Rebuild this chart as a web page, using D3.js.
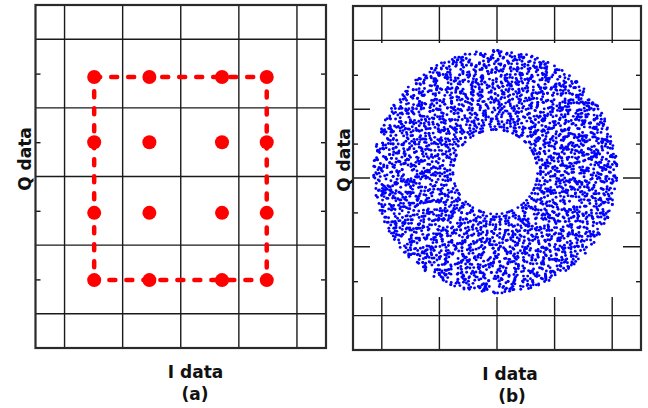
<!DOCTYPE html>
<html lang="en">
<head>
<meta charset="UTF-8">
<title>I/Q constellation</title>
<script src="https://cdnjs.cloudflare.com/ajax/libs/d3/7.8.5/d3.min.js"></script>
<style>
  body { margin: 0; background: #fff; }
  svg { display: block; }
  .lbl { font-family: "DejaVu Sans", sans-serif; font-weight: 700; font-size: 17px; fill: #111; }
</style>
</head>
<body>
<svg id="chart" width="648" height="408"></svg>
<script>
// grid lines sit on whole values, the small ticks on the half values
const gridValues = [-2, -1, 0, 1, 2];
const tickValues = [-1.5, -0.5, 0.5, 1.5];

// (a) constellation points
const constI = [-1.49, -0.54, 0.71, 1.48];
const constQ = [1.45, 0.50, -0.53, -1.51];

// (b) ring of received samples
const ringCenter = [-0.03, 0.09];   // I, Q
const ringOuter = [2.12, 1.77];     // half width in I, in Q
const ringInner = [0.71, 0.60];
// one string per 10 degree sector; each letter with the next one gives
// a sample: (phase inside the sector, radius inside the ring)
const sampleCode = "AaBbCcDdEeFfGgHhIiJjKkLlMmNnOoPpQqRrSsTtUuVvWwXxYyZz";
const ringSectors = [
  "JxqVbTmRhkZsPaGwcYeNdLoFiUtXQjHzrKvBMgSfnWyCaEpIlDuOqTzjhVxRkbmGNsYfwPacLiEdUoFtXKQjrZHgvBnSMyWpClaeIDuOfTxqJzkhVRbmGs",
  "hNvZqcDkWmTyaGsLbExpRiJoUfKzHwMdQtnVgCyPlBsrFjXaOeIuZkTmhNbWqGdyLvRcEsJpxAfUoKiHzMtwQgnDVyCbPlrSjFaXeOuIkZmTNhbqWGdLv",
  "pSaYgBoHuTzMfQxRnLcKwJeVdIiPkGlXvDbZmNyAtEqCjFrUhWsOpXkaLgTnQvHeYbJcZdRmFiUoSwMzPtAlVjExGqBrNhCkIsDuOyWfKaLgXpTnQ",
  "zVeMrGtAkYoJsDnXiHpBwLcQfUgKaZmTyEvOhRbSjNdPqIxClWuFtMeGrkAVoYsJnDiXpHwBcLqQfgUaKmZyTvEhObRjSdNqPxIlCuWFzMtGerAkYo",
  "dOkTuBxHaLmQcZwEsIgRyPnFvJeKtMbXpSoGhAlWqNrYiCfUjVzDgEwoYtRpLaUzMxKcHnQiBvSfJdOlTyGkAruPeXmZhIqNbWsCjFDvLtYkOxgaHR",
  "QmYwIrFzTbKpGaDnLhXeSoVjCuAtMqZkRiWyEgBsNlOcPvHdJfUxTwQaYmGzRkIbLpFsVoNheXjCDiuAtSqZwMkRyEgBlNsOcPvHdJfUxT",
  "uGcXnKqLwAeZrBtJiMhYpDsVoFkElRxCgTmWbQzUaNjHvIdOySfPtLkGuXcNqKwLeAzRrBjTiHmYdPsDoVkFlEgCxTrMbWqZaUnJhIvOdSyPf",
  "kFwDpRzXiLaTsVgYnBcHqMjUeOxKtGlZrSdAyNvCoPmJbIhEfWuQkXzRpDiLwTaVsYgBnHcMqUjOeKxGtZlSrAdNyCvPoJmIbEhWfQukFwDpRzX",
  "EbQsZyHlNvTgKaWrMpXcJdOiFuAeVkGzLoRmBhYtSwPqDnCjIxUfEaQbZsHyNlTvKgWaMrXpJcOdFiAuVeGkLzRoBmYhStPwDqCnIjUxFfEbQsZy",
  "rXaTfMhYbQkWeNsGiJcPvLoDuZgRtKmAyHzBwEqFlUnCpOxSjIdVrYaMfThXbWkQeGsNiJcLvPoDuZgKtRmHyAzEwBqFlUnCpOxSjIdV",
  "GtLyPcWnXeBrZkMiSjQaHfOvDuTgKmYlRbNcExPwJzAqIhUsFoVdCtGyLpWcXnBeZrMkSiQjHaOfDvTuKgYmRlNbEcPxJwAzIqUhFsVo",
  "oJwYeMbTcRxFkNaHzSgLiPvQdUlGrCyBtEnWmKsAjXfIuOhVpZqDxQkcAoRbvWnsTmEjzhGaiLfYuKdpCgOtrHlMwyBsNqUxIeVJzFPD",
  "VnRkGzIaSeYwDcObMtHqXjUlFpNsEgCrKyTvAhZiJoLmBfQuWdPxGeVnRzkIaSYweDcbOtMHqjXUlpFNsgECrKyvTAhiZJoLmfBQuWdxP",
  "cZpEjNwHtOfLbAyRkXqMsIvGdUaTlYeKzCoBrQiWmFnJhSgPxVuDcZjpENwHtfOLbyARkqXMsvIGdaUTlYekzKoCBrqQWimnFJhgSxPVud",
  "FyTqNeIbWkDrGhSxAmVcLzPjOuKtBgXwHnRiEfQaYdZlMsCoUvJpTFyqNIebkWrDGhxSmAcVzLjPuOtKgBwXnHiREfaQdYlZsMoCvUpJ",
  "aDmRuXqGzIfVkNoTwBlHcYsEjPxKgSrLeQiAtZnCvWbMyJdFhUpOaRmDXuGqIzVfNkToBwHlYcEsPjKxSgLrQeAiZtCnWvMbJyFdUhOp",
  "WsKnBoQeUfXcMlAiPzGrJtDyHvRkLaZwOmNgEbTxCjSqVdFpIhYuWKsnBQoeUXfcMAlPizGJrtDHyvRLkaZOwmNEgbTCxjSVqdFIphYu",
  "lHbFwTpVqNaCrZjExMoIgYkSuDzRcAvLtPiWnJhQsGfOmBdUyXeKlFbHwTpqVNaCrjZExoMIgkYSuzDRcvALtiPWnhJQsfGOmdBUyeXK",
  "nQcIxVgKbSoYlDtMhRwEzPfJaUkCrGvNyLsAiWmOdBqHeTjXpZuFnQIcVxKgSbYoDlMtRhEwPzJfUaCkGrNvLyAsWiOmBdHqTeXjZpFu",
  "YgOsMbWlEkRzHcTdVxAnJqPuGiFyLtCmKoSwBeZrDaXhUvNjIpQfYgsOMbWlkERzcHTdxVnAqJuPiGyFtLmCoKwSeBrZaDhXvUjNpIfQ",
  "tBeLhZoCqWjKgFxNvAsRyMdIuPkHzTlEbOcGwVrYaSnXfJmDiQpUtBLehZOcqWkjgFNxAvRsMyIdPuHkTzElObGcVwYrSanXJfDmQiUp",
  "KpJzDfSxGmAuVnEoWcRiYbLqThMkIlCgNsZwFeBtHrXaPyOjUvDdKpzJfDxSmGuAnVoEcWiRbYqLhTkMlIgCsNwZeFtBrHaXyPjOvUdD",
  "iRmUkXaYqCzFgOtHnLpEvBsJwDlTyMcKeZhIbSoPfVrGxNuAjQdWiRUmXkYaCqFzOgHtLnEpBvJsDwTlMyKcZeIhSbPoVfGrNxAuQjWd",
  "SeVkTnJyGqObDaLxMwHiZcPrUfEmWtRgKlCuQsXzAhYoBjNvIdFpSVekTnyJGqbODaxLwMiHZcrPUfmEWtgRlKuCQsXzhAYoBjvNIdpF",
  "xHuNfZbOpRcKwTlGyDmQeViAsJgLtXaMrEjYzBkWnCoUdPhSqFvIxuHNfbZOpcRKwlTGydMQevIAsgJLtaXMrjEYzkBWnoCUdhPSqvFI",
  "ErGaKmPdVzLsYjBqXcOhTwNfIuMkRbZeDtSlHgAoQyWvCnJpUxFiErkGaPmVdLzYsBjXqOcThNwIfKuRmZbDeStHlAgQoWyCvJnUpFxi",
  "mWfAjRtKzOcLyGnPxBiVsEqHdUbTkMwFaJRtzKOcyLGnxPBiVsqEHdbUTkwMmFjAtRKzcOyLnGPxiBsVEqdHUbkTgSrwNpXeYoCaZlQvJ",
  "DqUiHxNsLeZmCkWoBaRtFyJgVpIlOdEuTzSbGhKrYnMwAcXjPfQvDUqHixNLseZCmWkoBRatFJygVIplOEduTSzbGKhrYMnwAXcjPQfv",
  "gNcYoLzSkDfRwIeHqTmAjXbUvPsGyKtMlBrZaEiCxOhJnVdQpWuFgcNoYzLkSfDwRIehTqAmXjUbPvSyGKtlMBrZaiECxhOnJdVpQuWF",
  "PtGbRxWnJqZaVkDeLyHsMcOiUfTrBgNlXwAzKoSjEmQvIhYdCuFpPGtbRxnWqJaZkVeDyLsHcMiOfUrTgBlNwXzAoKjSmEvQhIdYuCFp",
  "kLcZsQnAxMoDfWbVgRiTyHjEpKuNzOaXwGrScBqIlFmJtUhYvPdEeLkZcsQAnMxDoWfVbRgTiHyEjKpNuOzXaGwSrBcIqFlJmUtYhPvDd",
  "VaEwRzMqJtIsKnLgBdXhOyCpUfGmTcNkYrPxSlZoHiWuAbFejDVaEWrzMJqItKsLnBgXdOhCyUpGfTmNcYkPrSxZlHoWiAuFbjeDqTwK",
  "oYmHeTxGqBlKrZsWcNaUjPfIvDzLkMgRpAyCtXhSiFwEnOuQbJdVoMYheTGxqBKlrZWscNUajPIfDvLzMkRgApCyXtShFiEwOnQuJbVd",
  "HbQdNuZgWkJsRlYxMoEpCtFaIvTrGzLnKeSyDmBhOcXqAiUwPjVfHQbdNZugWJksRYlxMEopCFtaIvTGrzLKneSDymBOhcXAqUiPwVjf",
  "zFoKyBmSqDwRhIcTuXeLgPjAvNlGsMrZkOtCbHiYnWdEaQpJxVfUzoFyKmBqSwDhRcIuTeXgLjPvAlNsGrMkZtObCiHnYdWEaQpxJfVU",
  "cTsWpIeOlYkQaHvNrMbXgUjDfZiRnKzEuLxGoPqBhAmSdCtVwJyFcsTpWeIlOkYaQvHrNbMgXjUfDiZnRzKuExLoGqPhBmAdStCwVyJF"
];

const svg = d3.select("#chart");

const panels = [
  { key: "a", x0: 35.5, x1: 326, y0: 5, y1: 348 },
  { key: "b", x0: 353, x1: 641, y0: 6, y1: 350 }
];
panels.forEach(p => {
  p.x = d3.scaleLinear().domain([-2.5, 2.5]).range([p.x0, p.x1]);
  p.y = d3.scaleLinear().domain([-2.5, 2.5]).range([p.y1, p.y0]);
});

function drawFrame(p, mask) {
  const g = svg.append("g");
  g.selectAll("line.v").data(gridValues).join("line")
    .attr("x1", d => p.x(d)).attr("x2", d => p.x(d))
    .attr("y1", p.y0).attr("y2", p.y1)
    .attr("stroke", "#1a1a1a").attr("stroke-width", 1.4);
  g.selectAll("line.h").data(gridValues).join("line")
    .attr("y1", d => p.y(d)).attr("y2", d => p.y(d))
    .attr("x1", p.x0).attr("x2", p.x1)
    .attr("stroke", "#1a1a1a").attr("stroke-width", 1.4);

  // panel (b) had its plot pasted over the middle of the grid
  if (mask) {
    g.append("rect")
      .attr("x", mask[0]).attr("y", mask[1])
      .attr("width", mask[2] - mask[0]).attr("height", mask[3] - mask[1])
      .attr("fill", "#fff");
  }

  const left = d3.axisLeft(p.y).tickValues(tickValues).tickSize(-5).tickFormat("");
  const right = d3.axisRight(p.y).tickValues(tickValues).tickSize(-5).tickFormat("");
  [[left, p.x0], [right, p.x1]].forEach(([ax, x]) => {
    const a = g.append("g").attr("transform", `translate(${x},0)`).call(ax);
    a.select(".domain").remove();
    a.selectAll(".tick line").attr("stroke", "#1a1a1a").attr("stroke-width", 1.4);
  });

  g.append("rect")
    .attr("x", p.x0).attr("y", p.y0)
    .attr("width", p.x1 - p.x0).attr("height", p.y1 - p.y0)
    .attr("fill", "none").attr("stroke", "#2a2a2a").attr("stroke-width", 2.2);
}

drawFrame(panels[0]);
drawFrame(panels[1], [370, 43, 623, 297]);

// ---- panel (a)
const pa = panels[0];
const corners = [
  [constI[0], constQ[0]], [constI[3], constQ[0]],
  [constI[3], constQ[3]], [constI[0], constQ[3]]
];
svg.append("path")
  .attr("d", d3.line().x(d => pa.x(d[0])).y(d => pa.y(d[1]))(corners) + "Z")
  .attr("fill", "none").attr("stroke", "#ff0000").attr("stroke-width", 4.5)
  .attr("stroke-linecap", "round").attr("stroke-dasharray", "6,11");

const constPts = constQ.flatMap(q => constI.map(i => [i, q]));
svg.append("g").selectAll("circle").data(constPts).join("circle")
  .attr("cx", d => pa.x(d[0])).attr("cy", d => pa.y(d[1]))
  .attr("r", 7).attr("fill", "#ff0000");

// ---- panel (b): decode the sector strings into I/Q samples
const pb = panels[1];
const a0 = ringInner[0] / ringOuter[0];
const samples = [];
ringSectors.forEach((s, k) => {
  for (let j = 0; j + 1 < s.length; j++) {
    const ca = (sampleCode.indexOf(s[j]) + 5 * k) % 52;
    const cr = (sampleCode.indexOf(s[j + 1]) + 3 * k) % 52;
    const ang = (k + (ca + 0.5) / 52) * Math.PI / 18;
    const u = (cr + 0.5) / 52;
    const t = Math.sqrt(a0 * a0 + u * (1 - a0 * a0));
    samples.push([ringCenter[0] + t * ringOuter[0] * Math.cos(ang),
                  ringCenter[1] + t * ringOuter[1] * Math.sin(ang)]);
  }
});
svg.append("g").selectAll("circle").data(samples).join("circle")
  .attr("cx", d => pb.x(d[0])).attr("cy", d => pb.y(d[1]))
  .attr("r", 1.45).attr("fill", "#0000ff");

// ---- labels
const labels = [
  { t: "Q data", x: 30.5, y: 159, rot: true },
  { t: "I data", x: 195.5, y: 377.5 },
  { t: "(a)", x: 195, y: 400 },
  { t: "Q data", x: 350, y: 160, rot: true },
  { t: "I data", x: 510, y: 380 },
  { t: "(b)", x: 512, y: 402 }
];
svg.append("g").selectAll("text").data(labels).join("text")
  .attr("class", "lbl")
  .attr("text-anchor", "middle")
  .attr("transform", d => `translate(${d.x},${d.y})` + (d.rot ? " rotate(-90)" : ""))
  .text(d => d.t);
</script>
</body>
</html>
